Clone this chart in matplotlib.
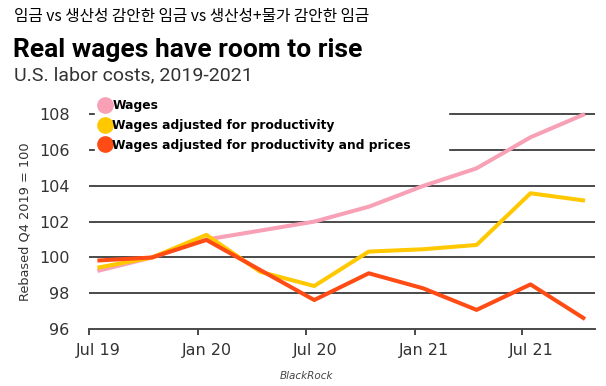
import matplotlib
matplotlib.use("Agg")
import matplotlib.pyplot as plt
import matplotlib.transforms as mtransforms
from matplotlib.lines import Line2D
import pandas as pd

# quarterly points, Q3 2019 .. Q4 2021
quarters = pd.date_range("2019-07-01", periods=10, freq="3MS") + pd.Timedelta(days=14)
wages = [99.25, 100.0, 101.0, 101.5, 102.0, 102.83, 103.99, 104.97, 106.7, 108.0]
wages_prod = [99.43, 100.0, 101.26, 99.2, 98.41, 100.33, 100.46, 100.7, 103.58, 103.17]
wages_prod_prices = [99.83, 100.0, 100.98, 99.3, 97.63, 99.12, 98.28, 97.08, 98.5, 96.57]

series_names = ["Wages", "Wages adjusted for productivity",
                "Wages adjusted for productivity and prices"]
colors = ["#f7a0b6", "#ffc800", "#ff4b14"]
y_ticks = [96, 98, 100, 102, 104, 106, 108]
x_ticks = ["2019-07-01", "2020-01-01", "2020-07-01", "2021-01-01", "2021-07-01"]
x_labels = ["Jul 19", "Jan 20", "Jul 20", "Jan 21", "Jul 21"]

fig = plt.figure(figsize=(6.06, 3.86), dpi=100)
ax = fig.add_axes([0.147, 0.147, 0.835, 0.581])

for y in y_ticks[1:]:
    ax.axhline(y, color="#4a4a4a", lw=1.4, zorder=1)

for vals, c, z in zip([wages, wages_prod, wages_prod_prices], colors, [3, 4, 5]):
    ax.plot(quarters, vals, color=c, lw=2.9, zorder=z, solid_capstyle="butt")

ax.set_ylim(96, 108.5)
ax.set_xlim(pd.Timestamp("2019-07-01"), pd.Timestamp("2021-11-01"))
ax.set_yticks(y_ticks)
ax.set_xticks(pd.to_datetime(x_ticks))
ax.set_xticklabels(x_labels)

for s in ["top", "right", "left"]:
    ax.spines[s].set_visible(False)
ax.spines["bottom"].set_color("#4a4a4a")
ax.spines["bottom"].set_linewidth(1.4)
ax.tick_params(axis="y", length=0, pad=14, labelsize=11.5, labelcolor="#333333")
ax.tick_params(axis="x", length=4, width=1.4, color="#4a4a4a", pad=6,
               labelsize=11.5, labelcolor="#333333")
shift = mtransforms.ScaledTranslation(9 / 100, 0, fig.dpi_scale_trans)
for lab in ax.get_xticklabels():
    lab.set_transform(lab.get_transform() + shift)

ax.set_ylabel("Rebased Q4 2019 = 100", fontsize=9.3, color="#333333")
ax.yaxis.set_label_coords(-0.113, 0.478)

handles = [Line2D([], [], marker="o", ls="", markersize=11, color=c) for c in colors]
leg = ax.legend(handles, series_names, loc="upper left",
                bbox_to_anchor=(0.012, 0.777, 0.698, 0.263), mode="expand",
                frameon=True, fancybox=False, framealpha=1, edgecolor="white",
                facecolor="white", prop={"weight": "bold", "size": 8.8},
                handletextpad=0.05, labelspacing=0.55, borderpad=0.25,
                handlelength=1.1, borderaxespad=0)
leg.set_zorder(6)

fig.text(0.023, 0.957, "임금 vs 생산성 감안한 임금 vs 생산성+물가 감안한 임금",
         family=["Noto Sans CJK KR", "DejaVu Sans"], fontsize=11.3, weight="medium",
         va="center", ha="left")
fig.text(0.021, 0.87, "Real wages have room to rise", fontsize=19, weight="bold",
         family="Roboto", va="center", ha="left")
fig.text(0.023, 0.805, "U.S. labor costs, 2019-2021", fontsize=14,
         family="Roboto", color="#333333", va="center", ha="left")
fig.text(0.505, 0.025, "BlackRock", fontsize=7.5, style="italic", color="#444444",
         ha="center", va="center")

fig.savefig("out.png", dpi=100)
